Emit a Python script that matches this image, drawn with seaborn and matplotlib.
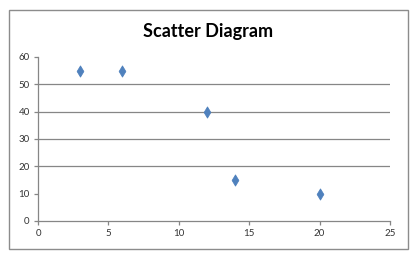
import matplotlib
matplotlib.use("Agg")
import matplotlib.pyplot as plt
import seaborn as sns
import pandas as pd
from matplotlib.patches import Rectangle

x_vals = [3, 6, 12, 14, 20]
y_vals = [55, 55, 40, 15, 10]
x_ticks = [0, 5, 10, 15, 20, 25]
y_ticks = [0, 10, 20, 30, 40, 50, 60]
grid_levels = [20, 30, 40, 50]
title = "Scatter Diagram"

sns.set_theme(style="white")
plt.rcParams['font.family'] = ['Lato', 'DejaVu Sans']

df = pd.DataFrame({"x": x_vals, "y": y_vals})

fig = plt.figure(figsize=(4.17, 2.62), dpi=100)
fig.patch.set_facecolor("white")
fig.add_artist(Rectangle((9/417, 1-249/262), 399/417, 239/262, transform=fig.transFigure,
                         fill=False, edgecolor="#8c8c8c", linewidth=1.0))
ax = fig.add_axes([38/417, 1-221/262, 352/417, 164/262])

for g in grid_levels:
    ax.axhline(g, color="#868686", linewidth=0.9, zorder=1)

sns.scatterplot(data=df, x="x", y="y", ax=ax, marker="d", s=32, color="#4F81BD",
                edgecolor="#4F81BD", linewidth=0.6, zorder=3, legend=False)

ax.set_xlim(0, 25)
ax.set_ylim(0, 60)
ax.set_xticks(x_ticks)
ax.set_yticks(y_ticks)
ax.set_xlabel("")
ax.set_ylabel("")
for s in ["top", "right"]:
    ax.spines[s].set_visible(False)
for s in ["left", "bottom"]:
    ax.spines[s].set_color("#868686")
    ax.spines[s].set_linewidth(0.9)
ax.tick_params(axis="both", which="major", direction="out", length=3, width=0.9,
               color="#868686", labelsize=7, labelcolor="#333333", pad=3,
               bottom=True, left=True)
ax.patch.set_alpha(0)

fig.text(208/417, 1-32/262, title, ha="center", va="center", fontsize=13, fontweight="bold",
         color="#000000")

fig.savefig("out.png", dpi=100)
